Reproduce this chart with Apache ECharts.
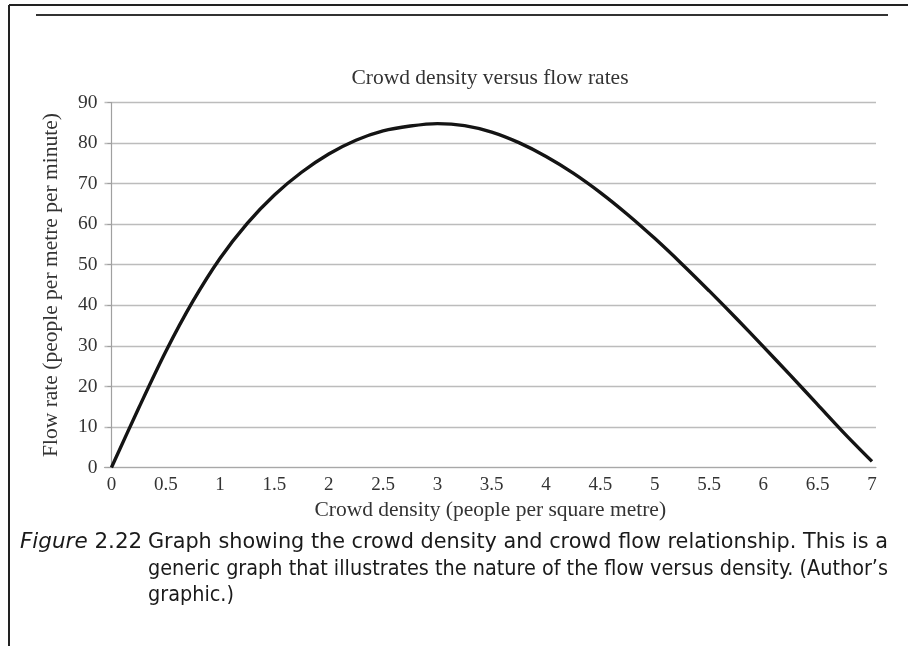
<!DOCTYPE html>
<html>
<head>
<meta charset="utf-8">
<script src="https://cdn.jsdelivr.net/npm/echarts@6/dist/echarts.min.js"></script>
<style>
html,body{margin:0;padding:0;background:#fff;}
#chart{width:908px;height:646px;}
</style>
</head>
<body>
<div id="chart"></div>
<script>
// ---- data ----
const density = [0, 0.25, 0.5, 0.75, 1, 1.25, 1.5, 1.75, 2, 2.25, 2.5, 2.75, 3, 3.25, 3.5,
                 3.75, 4, 4.25, 4.5, 4.75, 5, 5.25, 5.5, 5.75, 6, 6.25, 6.5, 6.75, 7];
const flowRate = [0, 14.6, 28.6, 41.0, 51.6, 60.2, 67.2, 72.8, 77.3, 80.7, 83.0, 84.2, 84.8, 84.3, 82.7,
                  80.1, 76.7, 72.6, 67.8, 62.4, 56.5, 50.2, 43.6, 36.8, 29.8, 22.7, 15.5, 8.3, 1.5];
const xTickValues = [0, 0.5, 1, 1.5, 2, 2.5, 3, 3.5, 4, 4.5, 5, 5.5, 6, 6.5, 7];
const yMin = 0, yMax = 90, yStep = 10;
const chartTitle = 'Crowd density versus flow rates';
const xAxisName = 'Crowd density (people per square metre)';
const yAxisName = 'Flow rate (people per metre per minute)';
const captionLabel = 'Figure';
const captionNumber = '2.22';
const captionLines = [
  'Graph showing the crowd density and crowd flow relationship. This is a',
  'generic graph that illustrates the nature of the flow versus density. (Author\u2019s',
  'graphic.)'
];

const serif = "'Liberation Serif', 'DejaVu Serif', serif";
const capFontFamily = "'Liberation Sans Narrow', 'DejaVu Sans Condensed', 'Liberation Sans', sans-serif";
const capFontSize = 21;

// measure caption text to fit the justified width of the printed caption
const mctx = document.createElement('canvas').getContext('2d');
function textWidth(t, font) { mctx.font = font; return mctx.measureText(t).width; }
const capFont = capFontSize + 'px ' + capFontFamily;
const bodyLeft = 148, bodyRight = 888;
const s1 = (bodyRight - bodyLeft) / textWidth(captionLines[0], capFont);
const s2 = (bodyRight - bodyLeft) / textWidth(captionLines[1], capFont);
const sFig = (140 - 20) / textWidth(captionLabel + ' ' + captionNumber, capFont);

const chart = echarts.init(document.getElementById('chart'), null, {renderer: 'canvas'});

const option = {
  animation: false,
  backgroundColor: '#ffffff',
  title: {
    text: chartTitle,
    left: 485,
    top: 62,
    textAlign: 'center',
    textStyle: {fontFamily: serif, fontSize: 21.5, fontWeight: 'normal', color: '#333'}
  },
  grid: {left: 104.5, right: 32, top: 102.5, bottom: 178.5},
  xAxis: {
    type: 'value',
    min: -0.064,
    max: 7.037,
    name: xAxisName,
    nameLocation: 'middle',
    nameGap: 26,
    nameTextStyle: {fontFamily: serif, fontSize: 21.5, color: '#333'},
    axisLine: {show: true, lineStyle: {color: '#a8a8a8', width: 1.2}},
    axisTick: {show: false},
    splitLine: {show: false},
    axisLabel: {
      customValues: xTickValues,
      formatter: v => String(v),
      margin: 8,
      fontFamily: serif, fontSize: 19, color: '#333'
    }
  },
  yAxis: {
    type: 'value',
    min: yMin,
    max: yMax,
    interval: yStep,
    name: yAxisName,
    nameLocation: 'middle',
    nameRotate: 90,
    nameGap: 42,
    nameTextStyle: {fontFamily: serif, fontSize: 21.5, color: '#333'},
    axisLine: {show: true, lineStyle: {color: '#a0a0a0', width: 1.2}},
    axisTick: {show: true, length: 4, lineStyle: {color: '#a0a0a0'}},
    axisLabel: {margin: 7, fontFamily: serif, fontSize: 19.5, color: '#333'},
    splitLine: {show: true, lineStyle: {color: '#bcbcbc', width: 1.3}}
  },
  series: [{
    type: 'line',
    data: density.map((d, i) => [d, flowRate[i]]),
    smooth: 0.3,
    symbol: 'none',
    lineStyle: {color: '#141414', width: 3.4}
  }],
  graphic: [
    {type: 'line', shape: {x1: 9, y1: 5, x2: 908, y2: 5}, style: {stroke: '#222', lineWidth: 2}},
    {type: 'line', shape: {x1: 9, y1: 5, x2: 9, y2: 646}, style: {stroke: '#222', lineWidth: 2}},
    {type: 'line', shape: {x1: 36, y1: 15, x2: 888, y2: 15}, style: {stroke: '#333', lineWidth: 2}},
    {
      type: 'text', x: 20, y: 543, scaleX: sFig,
      style: {
        text: '{i|' + captionLabel + '} ' + captionNumber,
        font: capFont, fill: '#1a1a1a', textVerticalAlign: 'middle', verticalAlign: 'middle',
        rich: {i: {fontStyle: 'italic', fontFamily: capFontFamily, fontSize: capFontSize, fill: '#1a1a1a'}}
      }
    },
    {type: 'text', x: bodyLeft, y: 543, scaleX: s1,
      style: {text: captionLines[0], font: capFont, fill: '#1a1a1a', textVerticalAlign: 'middle', verticalAlign: 'middle'}},
    {type: 'text', x: bodyLeft, y: 570, scaleX: s2,
      style: {text: captionLines[1], font: capFont, fill: '#1a1a1a', textVerticalAlign: 'middle', verticalAlign: 'middle'}},
    {type: 'text', x: bodyLeft, y: 596, scaleX: s2,
      style: {text: captionLines[2], font: capFont, fill: '#1a1a1a', textVerticalAlign: 'middle', verticalAlign: 'middle'}}
  ]
};
chart.setOption(option);
</script>
</body>
</html>
